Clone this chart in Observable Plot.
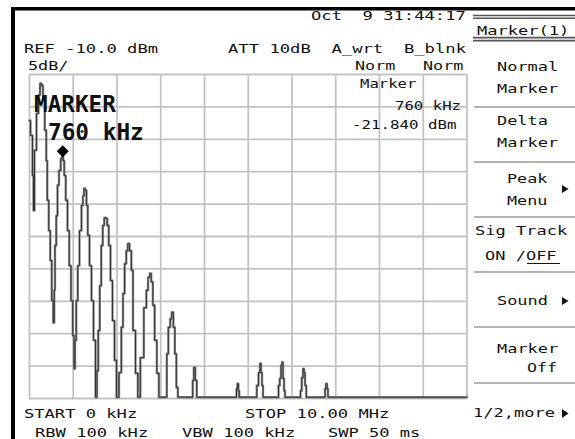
<!DOCTYPE html>
<html><head><meta charset="utf-8">
<script src="https://cdn.jsdelivr.net/npm/d3@7"></script>
<script src="https://cdn.jsdelivr.net/npm/@observablehq/plot@0.6"></script>
<style>body{margin:0;background:#fff} svg{display:block}</style>
</head><body><div id="chart"></div>
<script>
// ---- data (MHz, dBm) ----
const traceFreq = [0,0.046,0.091,0.091,0.137,0.183,0.229,0.251,0.297,0.320,0.377,0.389,0.423,0.457,0.491,0.526,0.560,
  0.571,0.594,0.629,0.651,0.697,0.731,0.760,0.777,0.811,0.846,0.891,0.926,0.971,1.006,1.029,
  1.051,1.086,1.120,1.166,1.211,1.234,1.257,1.291,1.314,1.349,1.394,1.440,1.486,1.531,
  1.554,1.589,1.623,1.657,1.691,1.726,1.760,1.794,1.829,1.874,1.920,1.966,2.011,
  2.080,2.119,2.155,2.194,2.229,2.263,2.309,2.347,2.384,2.462,2.491,
  2.576,2.651,2.690,2.731,2.766,2.800,2.840,2.880,2.942,2.971,
  3.131,3.147,3.200,3.234,3.269,3.307,3.337,3.376,3.406,
  3.719,3.742,3.771,3.806,3.840,
  4.720,4.743,4.761,4.789,4.800,
  5.177,5.211,5.257,5.280,5.303,5.326,5.349,
  5.680,5.703,5.737,5.760,5.783,5.806,5.829,5.851,
  6.183,6.206,6.240,6.263,6.286,6.309,6.343,
  6.743,6.766,6.789,6.811,6.834,10.0];
const traceDbm = [-17.1,-19.4,-25.6,-31.0,-21.7,-16.0,-13.2,-11.4,-11.7,-14.0,-18.6,-23.3,-29.4,-34.1,-38.7,-44.9,-48.3,
  -43.3,-36.4,-31.8,-27.1,-24.8,-23.0,-21.84,-23.3,-25.6,-29.4,-34.1,-39.5,-44.9,-50.3,-55.4,
  -51.0,-44.9,-39.5,-34.1,-30.2,-28.7,-27.6,-27.9,-30.2,-34.8,-39.5,-44.9,-51.0,-59.8,
  -55.7,-49.5,-42.6,-36.4,-33.3,-32.1,-32.2,-33.3,-36.4,-41.8,-48.0,-54.1,-59.8,
  -56.0,-49.0,-43.8,-39.2,-37.2,-36.1,-37.2,-40.2,-49.5,-56.1,-59.8,
  -53.7,-46.0,-43.3,-41.3,-40.7,-42.0,-45.6,-51.0,-56.1,-59.8,
  -59.8,-53.1,-49.0,-47.7,-46.7,-49.0,-53.1,-58.3,-59.8,
  -59.8,-57.2,-55.2,-57.2,-59.8,
  -59.8,-58.5,-57.7,-58.8,-59.8,
  -59.8,-58.0,-56.0,-54.6,-56.0,-58.0,-59.8,
  -59.8,-58.0,-56.9,-54.9,-54.4,-56.9,-58.8,-59.8,
  -59.8,-58.8,-56.8,-55.4,-56.0,-58.0,-59.8,
  -59.8,-58.5,-57.7,-58.5,-59.8,-59.8];
const gridFreq = [0,1,2,3,4,5,6,7,8,9,10];
const gridLevel = [-60,-55,-50,-45,-40,-35,-30,-25,-20,-15,-10];
const markerFreq = [0.76];
const markerDbm = [-21.84];

// ---- texts ----
const headerLabels = ["Oct  9 31:44:17","REF -10.0 dBm","ATT 10dB  A_wrt  B_blnk","5dB/","Norm","Norm"];
const readoutLabels = ["Marker","760 kHz","-21.840 dBm"];
const bigLabels = ["MARKER","760 kHz"];
const menuLabels = ["Marker(1)","Normal","Marker","Delta","Marker","Peak","Menu","Sig Track","ON /OFF","Sound","Marker","Off","1/2,more"];
const footerLabels = ["START 0 kHz","STOP 10.00 MHz","RBW 100 kHz","VBW 100 kHz","SWP 50 ms"];

// ---- layout (pixels) ----
const headerPos = [[311,20],[24,52.5],[228,52.5],[28,70],[355,70],[423,70]];
const readoutPos = [[360,88],[395,110],[352,129]];
const bigPos = [[34,111.5],[48,140]];
const menuPos = [[477,35],[497,71],[497,93],[497,125],[497,146.5],[507,183],[507,205],[475,235],[485,260],[497,305],[497,353],[527,371.5],[473,416.5]];
const footerPos = [[24,418],[245,418],[35,437],[182,437],[328,437]];
const separators = [15.5,18.3,37.6,40.6,107,162,217,272,327,383];
const triangles = [[562,185,193],[562,297,305],[562,409,418]];
const PITCH = 10.4;

const trace = traceFreq.map((f,i)=>({f, db: traceDbm[i]}));
const marker = markerFreq.map((f,i)=>({f, db: markerDbm[i]}));

const plot = Plot.plot({
  width: 575, height: 439,
  marginLeft: 29, marginRight: 108.5, marginTop: 74, marginBottom: 41,
  x: {domain:[0,10], axis:null},
  y: {domain:[-60,-10], axis:null},
  style: {background:"#fff", fontFamily:"'DejaVu Sans Mono', monospace", overflow:"visible"},
  marks: [
    Plot.ruleX(gridFreq, {stroke:"#c2c2c2", strokeWidth:1.8}),
    Plot.ruleY(gridLevel, {stroke:"#c2c2c2", strokeWidth:1.8}),
    Plot.line(trace, {x:"f", y:"db", curve:"step", stroke:"#8a8a8a", strokeWidth:2.4}),
    Plot.line(trace, {x:"f", y:"db", curve:"step", stroke:"#333", strokeWidth:1}),
    Plot.dot(marker, {x:"f", y:"db", symbol:"diamond2", r:5.4, fill:"#000"})
  ]
});
document.getElementById("chart").appendChild(plot);

const svg = d3.select(plot);
const g = svg.append("g").attr("text-anchor","start");
// frame
g.append("rect").attr("x",11).attr("y",7).attr("width",4).attr("height",432).attr("fill","#000");
g.append("rect").attr("x",11).attr("y",7).attr("width",564).attr("height",3.5).attr("fill","#000");

function addText(labels, pos, size, weight, pitch){
  labels.forEach((s,i)=>{
    const t = g.append("text").attr("x",pos[i][0]).attr("y",pos[i][1])
      .attr("text-anchor","start")
      .attr("font-family","'DejaVu Sans Mono', monospace")
      .attr("font-size",size).attr("font-weight",weight).attr("fill","#111")
      .attr("xml:space","preserve").style("white-space","pre").text(s);
    if (pitch) t.attr("textLength", s.length*pitch - 1.2).attr("lengthAdjust","spacingAndGlyphs");
  });
}
addText(headerLabels, headerPos, 13, "normal", PITCH);
addText(readoutLabels, readoutPos, 13, "normal", 9.6);
addText(menuLabels, menuPos, 13, "normal", PITCH);
addText(footerLabels, footerPos, 13, "normal", PITCH);
addText(bigLabels, bigPos, 23, "bold", 13.85);

// menu separators
separators.forEach((y,i)=>{
  g.append("line").attr("x1", i<4?473:474).attr("x2",575).attr("y1",y).attr("y2",y)
    .attr("stroke", i<4?"#555":"#9a9a9a").attr("stroke-width", i<4?1.6:1.5);
});
// underline OFF
g.append("line").attr("x1",527).attr("x2",560).attr("y1",263.5).attr("y2",263.5).attr("stroke","#111").attr("stroke-width",1.2);
// triangles
triangles.forEach(([x,y0,y1])=>{
  g.append("path").attr("d",`M${x},${y0}L${x+6.5},${(y0+y1)/2}L${x},${y1}Z`).attr("fill","#111");
});
</script>
</body></html>
